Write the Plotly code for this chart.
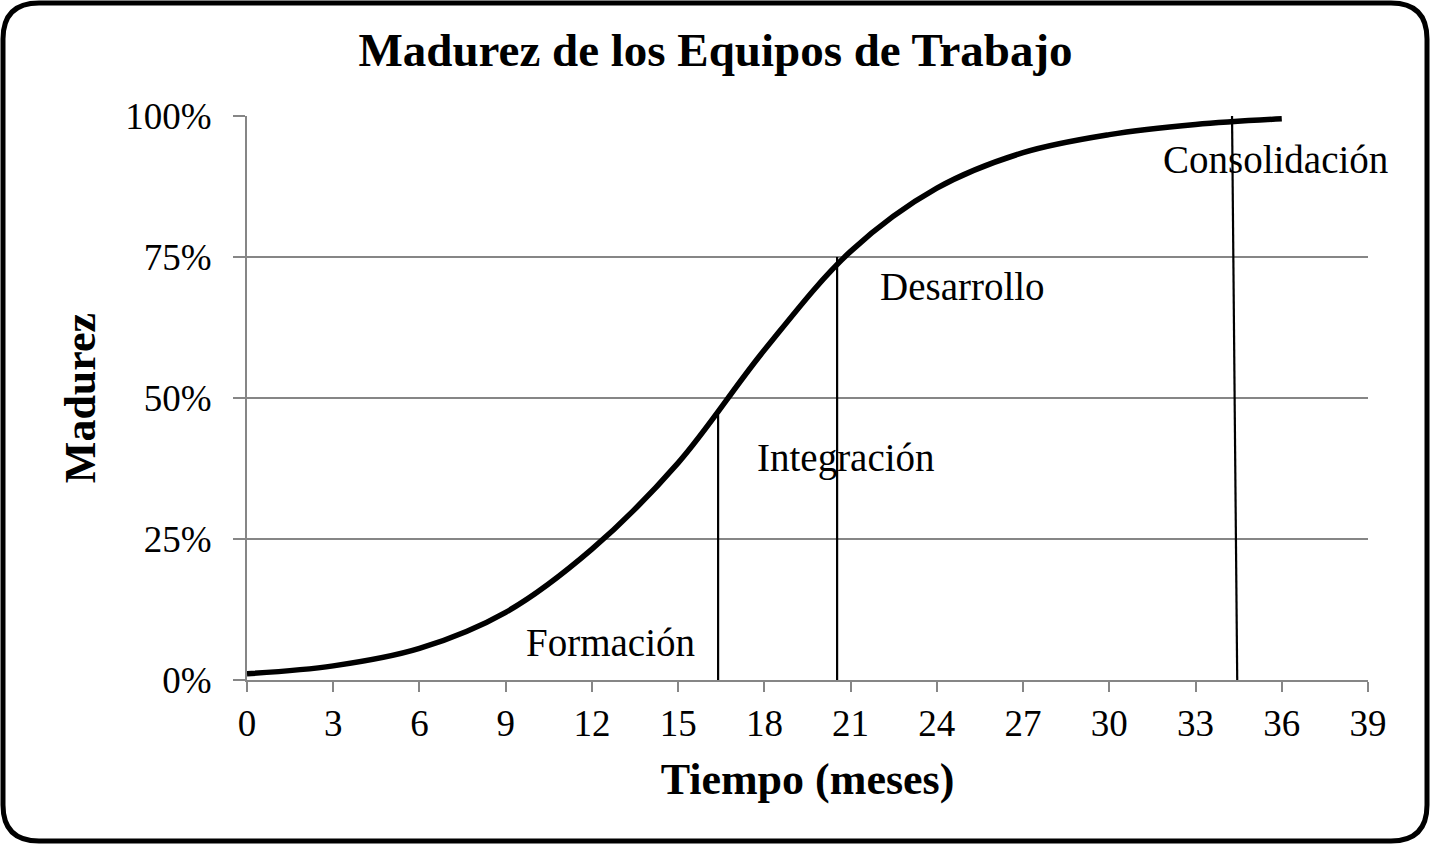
import plotly.graph_objects as go

# ---- data ----
months = [0, 3, 6, 9, 12, 15, 18, 21, 24, 27, 30, 33, 36]
maturity = [0.011, 0.025, 0.056, 0.12, 0.232, 0.385, 0.585, 0.76,
            0.872, 0.935, 0.967, 0.985, 0.995]

phase_x_bottom = [16.39, 20.53, 34.45]
phase_x_top = [16.39, 20.53, 34.27]
phase_top = [0.47, 0.75, 1.0]

phase_labels = ["Formación", "Integración", "Desarrollo", "Consolidación"]
label_x = [12.63, 20.84, 24.9, 35.77]
label_y = [0.066, 0.394, 0.697, 0.922]

x_ticks = list(range(0, 40, 3))
y_ticks = [0, 0.25, 0.5, 0.75, 1.0]
y_tick_text = ["0%", "25%", "50%", "75%", "100%"]

W, H = 1431, 846
ML, MR, MT, MB = 247, 63, 116, 166
FONT = "Liberation Serif"
GRID = "#868686"

fig = go.Figure()

fig.add_trace(go.Scatter(
    x=months, y=maturity, mode="lines",
    line=dict(color="black", width=5.5, shape="spline", smoothing=1.0),
    hoverinfo="skip", showlegend=False,
))

vx, vy = [], []
for xb, xt, yt in zip(phase_x_bottom, phase_x_top, phase_top):
    vx += [xb, xt, None]
    vy += [0, yt, None]
fig.add_trace(go.Scatter(
    x=vx, y=vy, mode="lines", line=dict(color="black", width=2.2),
    hoverinfo="skip", showlegend=False,
))

for t, x, y in zip(phase_labels, label_x, label_y):
    fig.add_annotation(x=x, y=y, xref="x", yref="y", text=t, showarrow=False,
                       font=dict(family=FONT, size=39, color="black"),
                       xanchor="center", yanchor="middle")

# rounded border around the whole figure (paper coords)
pw, ph = W - ML - MR, H - MT - MB
def px(v): return (v - ML) / pw
def py(v): return (H - MB - v) / ph
x0, x1, y0, y1, r = 3, 1427, 3, 841, 36
path = (f"M {px(x0 + r)},{py(y0)} L {px(x1 - r)},{py(y0)} "
        f"Q {px(x1)},{py(y0)} {px(x1)},{py(y0 + r)} "
        f"L {px(x1)},{py(y1 - r)} Q {px(x1)},{py(y1)} {px(x1 - r)},{py(y1)} "
        f"L {px(x0 + r)},{py(y1)} Q {px(x0)},{py(y1)} {px(x0)},{py(y1 - r)} "
        f"L {px(x0)},{py(y0 + r)} Q {px(x0)},{py(y0)} {px(x0 + r)},{py(y0)} Z")
fig.add_shape(type="path", path=path, xref="paper", yref="paper",
              line=dict(color="black", width=5), layer="above")

fig.update_layout(
    width=W, height=H,
    margin=dict(l=ML, r=MR, t=MT, b=MB),
    paper_bgcolor="white", plot_bgcolor="white",
    font=dict(family=FONT, color="black"),
    title=dict(text="<b>Madurez de los Equipos de Trabajo</b>",
               x=0.5, xanchor="center", xref="container",
               y=1 - 50 / H, yanchor="middle", yref="container",
               font=dict(family=FONT, size=47, color="black")),
    xaxis=dict(range=[0, 39], tickmode="array", tickvals=x_ticks,
               ticktext=[str(v) for v in x_ticks],
               showgrid=False, zeroline=False, showline=True,
               linecolor=GRID, linewidth=2,
               ticks="outside", ticklen=10, tickwidth=2, tickcolor=GRID,
               tickfont=dict(family=FONT, size=37, color="black"),
               title=dict(text="<b>Tiempo (meses)</b>", standoff=20,
                          font=dict(family=FONT, size=44, color="black"))),
    yaxis=dict(range=[0, 1], tickmode="array", tickvals=y_ticks,
               ticktext=y_tick_text,
               showgrid=True, gridcolor=GRID, gridwidth=2,
               zeroline=False, showline=True, linecolor=GRID, linewidth=2,
               ticks="outside", ticklen=12, tickwidth=2, tickcolor=GRID,
               ticklabelstandoff=14,
               tickfont=dict(family=FONT, size=37, color="black"),
               title=dict(text="<b>Madurez</b>", standoff=16,
                          font=dict(family=FONT, size=44, color="black"))),
)

fig.write_html("out.html", config={"displayModeBar": False},
               post_script="document.body.style.margin='0';document.body.style.overflow='hidden';")
